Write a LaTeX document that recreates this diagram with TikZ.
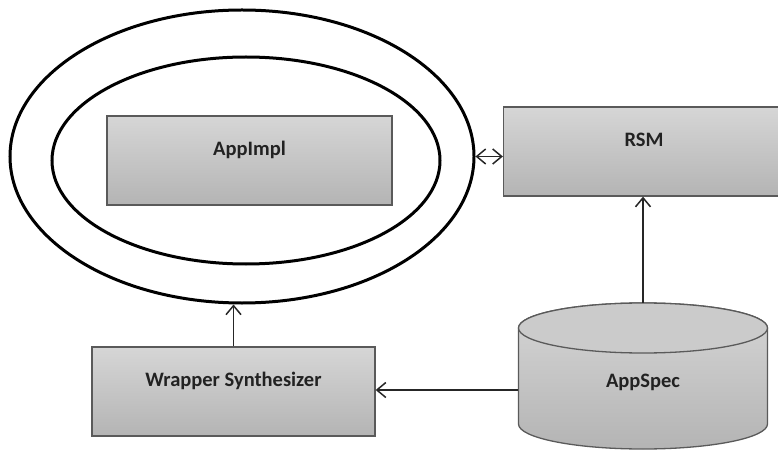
\documentclass[tikz,border=0pt]{standalone}
\usepackage{fontspec}
\setmainfont{Carlito}
\usetikzlibrary{arrows.meta,shapes.geometric,shadows}
\definecolor{boxline}{HTML}{5A5A5A}
\definecolor{boxtop}{HTML}{D6D6D6}
\definecolor{boxbot}{HTML}{B4B4B4}
\definecolor{txt}{HTML}{222222}
\tikzset{
  graybox/.style={rectangle, draw=boxline, line width=1.3pt, top color=boxtop, bottom color=boxbot,
    drop shadow={shadow xshift=1.2pt, shadow yshift=-1.2pt, opacity=0.25},
    inner sep=0pt, font=\fontsize{20.5}{24}\selectfont\bfseries, text=txt,
    text height=15pt, text depth=25pt},
  ring/.style={ellipse, draw=black, line width=3pt, inner sep=0pt},
  arr/.style={draw=black!85, line width=1.5pt, -{Straight Barb[length=9pt,width=15pt,line width=1.5pt]}},
  darr/.style={draw=black!85, line width=1.5pt, {Straight Barb[length=9pt,width=15pt,line width=1.5pt]}-{Straight Barb[length=9pt,width=15pt,line width=1.5pt]}},
}
\begin{document}
\begin{tikzpicture}[x=1pt,y=-1pt]
\useasboundingbox (0,0) rectangle (778,454);
\fill[white] (0,0) rectangle (778,454);

% rings
\node[ring, minimum width=464pt, minimum height=293pt] (outer) at (242,156.5) {};
\node[ring, minimum width=388pt, minimum height=207pt] (inner) at (246,160.5) {};

% boxes
\node[graybox, minimum width=285pt, minimum height=89pt] (impl) at (249.5,160.5) {AppImpl};
\node[graybox, minimum width=281pt, minimum height=89pt] (rsm) at (644,151.5) {RSM};
\node[graybox, minimum width=283pt, minimum height=89pt] (wrap) at (233.5,391.5) {Wrapper Synthesizer};

% cylinder (AppSpec)
\path[top color=boxtop, bottom color=boxbot, draw=boxline, line width=1.3pt]
  (518.5,328) -- (518.5,424) arc[start angle=180, end angle=0, x radius=124.5, y radius=25]
  -- (767.5,328) arc[start angle=0, end angle=-180, x radius=124.5, y radius=25] -- cycle;
\draw[draw=boxline, line width=1.3pt, fill=boxtop!95!black] (643,328) ellipse[x radius=124.5, y radius=25];
\node[inner sep=0pt, minimum width=249pt, minimum height=146pt,
      font=\fontsize{20.5}{24}\selectfont\bfseries, text=txt,
      text height=30pt, text depth=7pt] (spec) at (643,376) {AppSpec};

% connectors
\draw[darr] (outer.east) -- (outer.east -| rsm.west);
\draw[arr] (spec.north) -- (spec.north |- rsm.south);
\draw[arr] (spec.west |- 0,390) -- (wrap.east |- 0,390);
\draw[arr] (wrap.north) -- (wrap.north |- outer.south);
\end{tikzpicture}
\end{document}
